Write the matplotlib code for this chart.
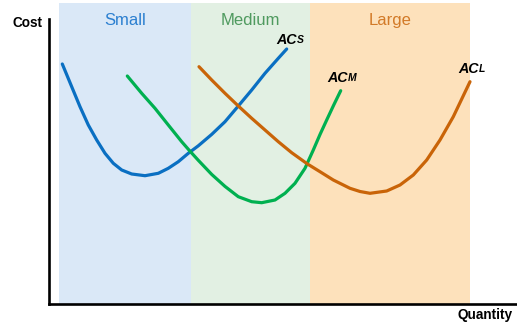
import matplotlib
matplotlib.use("Agg")
import matplotlib.pyplot as plt

plt.rcParams['font.family'] = ['Liberation Sans', 'DejaVu Sans']

# Short-run average cost curves for three plant sizes
acs_q = [1.33, 2.27, 3.1, 3.93, 4.77, 5.6, 6.43, 7.27, 8.27, 9.6, 10.93, 11.93, 12.93,
         13.93, 14.93, 16.27, 17.6, 18.93, 20.27, 21.6, 22.93, 23.77]
acs_c = [24.0, 21.73, 19.73, 17.9, 16.4, 15.07, 14.07, 13.4, 13.0, 12.83, 13.07, 13.57, 14.23,
         15.07, 15.82, 16.96, 18.23, 19.8, 21.4, 23.07, 24.57, 25.5]

acm_q = [7.83, 9.27, 10.6, 11.93, 13.27, 14.03, 14.93, 16.27, 17.6, 18.93, 20.27, 21.27,
         22.6, 23.6, 24.6, 25.6, 26.43, 27.1, 27.77, 28.45, 29.17]
acm_c = [22.8, 21.07, 19.57, 17.9, 16.23, 15.36, 14.37, 12.96, 11.76, 10.73, 10.23, 10.13,
         10.4, 11.07, 12.07, 13.57, 15.4, 16.95, 18.4, 19.85, 21.33]

acl_q = [15.0, 16.27, 17.6, 18.93, 20.27, 21.6, 22.93, 24.27, 25.85, 27.1, 28.43, 30.1,
         31.1, 32.1, 33.77, 35.1, 36.43, 37.77, 39.1, 40.43, 42.1]
acl_c = [23.73, 22.4, 21.07, 19.8, 18.57, 17.4, 16.23, 15.13, 14.0, 13.23, 12.4, 11.57,
         11.25, 11.07, 11.3, 11.9, 12.9, 14.4, 16.4, 18.73, 22.23]

# Output ranges where each plant size is cheapest
region_names = ["Small", "Medium", "Large"]
region_bounds = [(1.0, 14.2), (14.2, 26.1), (26.1, 42.1)]
region_fill = ["#dae8f7", "#e2f0e3", "#fde1bb"]
region_text = ["#2b7fd0", "#4f9a5f", "#d27a28"]

curve_names = ["S", "M", "L"]
curve_colors = ["#0a6fc2", "#00b050", "#c96408"]
label_pos = [(22.7, 26.0), (27.8, 22.2), (40.9, 23.1)]

W, H = 517, 323
fig = plt.figure(figsize=(W / 100, H / 100), dpi=100)
ax = fig.add_axes([49 / W, 19 / H, (W - 49) / W, (304 - 3) / H])
ax.set_xlim(0, (W - 49) / 10)
ax.set_ylim(0, 30.1)

for (lo, hi), fc, name, tc in zip(region_bounds, region_fill, region_names, region_text):
    ax.axvspan(lo, hi, color=fc, lw=0, zorder=0)
    ax.text((lo + hi) / 2, 27.9, name, ha='center', va='baseline',
            fontsize=12, color=tc)

for q, c, col in zip([acs_q, acm_q, acl_q], [acs_c, acm_c, acl_c], curve_colors):
    ax.plot(q, c, color=col, lw=2.3, solid_capstyle='round',
            solid_joinstyle='round', zorder=3)

for sub, (x, y) in zip(curve_names, label_pos):
    t = ax.text(x, y, "AC", ha='left', va='baseline', fontsize=10.3,
                fontweight='bold', fontstyle='italic', zorder=4)
    ax.annotate(sub, xy=(1, 0), xycoords=t, xytext=(0, 1.6), textcoords='offset points',
                ha='left', va='bottom', fontsize=7.5, fontweight='bold',
                fontstyle='italic', zorder=4)

for side in ("top", "right"):
    ax.spines[side].set_visible(False)
ax.spines['left'].set_linewidth(1.9)
ax.spines['bottom'].set_linewidth(1.9)
ax.spines['left'].set_bounds(0, 28.5)
ax.set_xticks([])
ax.set_yticks([])

fig.text(27.7 / W, 1 - 23 / H, "Cost", ha='center', va='center',
         fontsize=9.8, fontweight='bold')
fig.text(485.5 / W, 1 - 315.5 / H, "Quantity", ha='center', va='center',
         fontsize=9.8, fontweight='bold')

fig.savefig("out.png", dpi=100)
